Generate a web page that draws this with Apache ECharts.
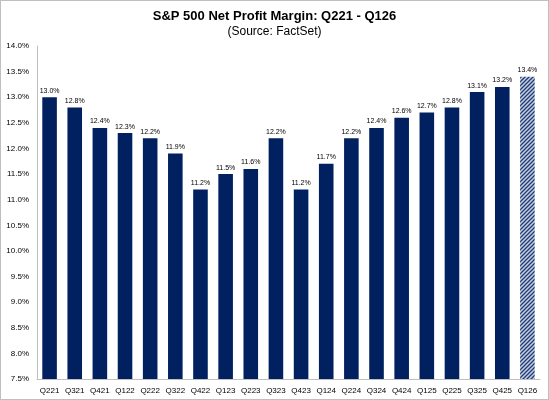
<!DOCTYPE html>
<html><head><meta charset="utf-8">
<script src="https://cdn.jsdelivr.net/npm/echarts@6/dist/echarts.min.js"></script>
<style>html,body{margin:0;padding:0;background:#fff}#c{width:547px;height:398px;border:1px solid #bfbfbf}</style>
</head><body><div id="c"></div>
<script>
const categories=['Q221','Q321','Q421','Q122','Q222','Q322','Q422','Q123','Q223','Q323','Q423','Q124','Q224','Q324','Q424','Q125','Q225','Q325','Q425','Q126'];
const values=[13.0,12.8,12.4,12.3,12.2,11.9,11.2,11.5,11.6,12.2,11.2,11.7,12.2,12.4,12.6,12.7,12.8,13.1,13.2,13.4];
const estimateIndex=19;
const cv=document.createElement('canvas');cv.width=4;cv.height=4;
const g=cv.getContext('2d');g.fillStyle='#c8d0e0';g.fillRect(0,0,4,4);
g.strokeStyle='#1f3a78';g.lineWidth=1.3;
g.beginPath();g.moveTo(0,4);g.lineTo(4,0);g.moveTo(-1,1);g.lineTo(1,-1);g.moveTo(3,5);g.lineTo(5,3);g.stroke();
const data=values.map((v,i)=>i===estimateIndex?{value:v,itemStyle:{color:{image:cv,repeat:'repeat'}}}:v);
const ch=echarts.init(document.getElementById('c'));
ch.setOption({
 animation:false,
 title:{text:'S&P 500 Net Profit Margin: Q221 - Q126',subtext:'(Source: FactSet)',left:'center',top:4,itemGap:3,
  textStyle:{fontFamily:'Liberation Sans',fontSize:13,fontWeight:'bold',color:'#000'},
  subtextStyle:{fontFamily:'Liberation Sans',fontSize:12,color:'#000'}},
 grid:{left:36,right:8,top:45,bottom:20},
 xAxis:{type:'category',data:categories,axisTick:{show:false},axisLine:{lineStyle:{color:'#bfbfbf'}},
  axisLabel:{fontFamily:'Liberation Sans',fontSize:8,color:'#000',interval:0}},
 yAxis:{type:'value',min:7.5,max:14,interval:0.5,splitLine:{show:false},
  axisLine:{show:true,lineStyle:{color:'#bfbfbf'}},
  axisLabel:{fontFamily:'Liberation Sans',fontSize:8,color:'#000',formatter:v=>v.toFixed(1)+'%'}},
 series:[{type:'bar',data:data,barCategoryGap:'42%',itemStyle:{color:'#002060'},
  label:{show:true,position:'top',distance:3,fontFamily:'Liberation Sans',fontSize:7,color:'#000',formatter:p=>p.value.toFixed(1)+'%'}}]
});
</script></body></html>
